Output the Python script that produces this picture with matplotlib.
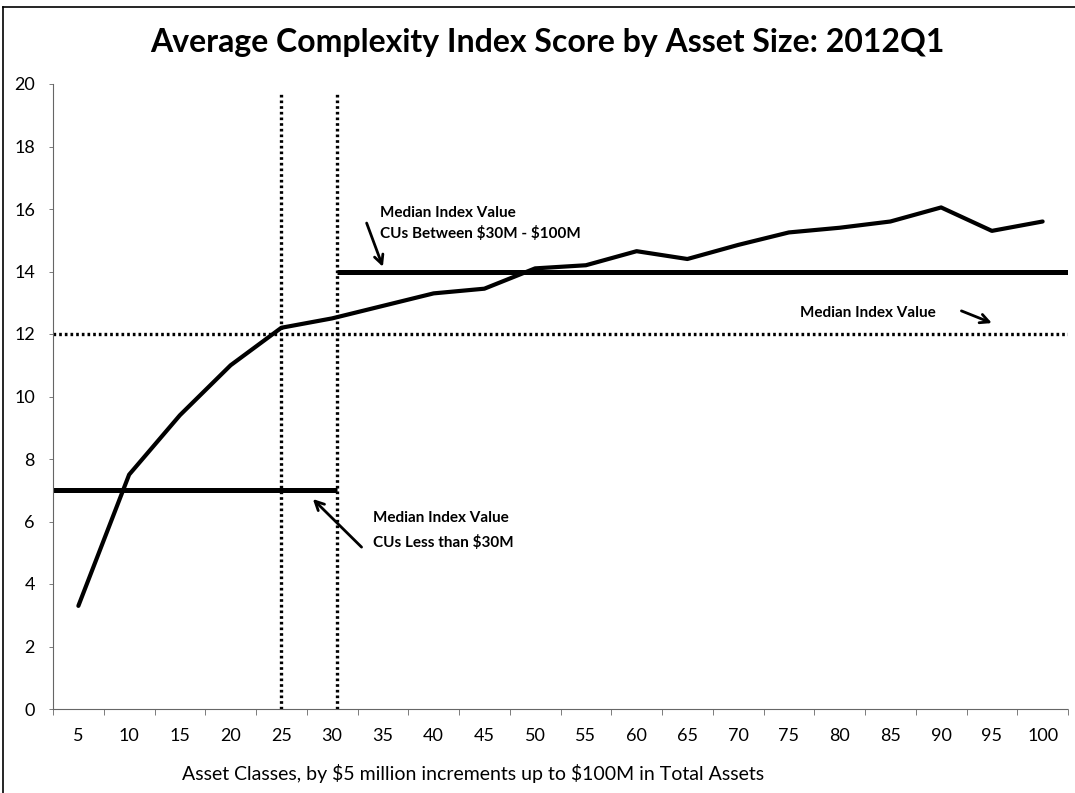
import matplotlib.pyplot as plt
from matplotlib.lines import Line2D

# asset classes ($M) and average complexity index score
asset_classes = [5, 10, 15, 20, 25, 30, 35, 40, 45, 50,
                 55, 60, 65, 70, 75, 80, 85, 90, 95, 100]
avg_score = [3.3, 7.5, 9.4, 11.0, 12.2, 12.5, 12.9, 13.3, 13.45, 14.1,
             14.2, 14.65, 14.4, 14.85, 15.25, 15.4, 15.6, 16.05, 15.3, 15.6]

median_all = 12.0
median_small = 7.0     # CUs less than $30M
median_mid = 14.0      # CUs between $30M - $100M
split_lo = 25
split_hi = 30.5

y_ticks = [0, 2, 4, 6, 8, 10, 12, 14, 16, 18, 20]

plt.rcParams['font.family'] = ['Lato', 'DejaVu Sans']

fig = plt.figure(figsize=(10.75, 7.93), dpi=100)
ax = fig.add_axes([53 / 1075, 1 - 709 / 793, 1015 / 1075, 625 / 793])

xmin, xmax = 2.5, 102.5
ax.set_xlim(xmin, xmax)
ax.set_ylim(0, 20)

dot = (0, (0.8, 0.9))
ax.plot([xmin, xmax], [median_all, median_all], color='black', lw=2.4, ls=dot)
ax.plot([split_lo, split_lo], [0, 19.75], color='black', lw=2.4, ls=dot)
ax.plot([split_hi, split_hi], [0, 19.75], color='black', lw=2.4, ls=dot)
ax.plot([xmin, split_hi], [median_small, median_small], color='black', lw=3.6,
        solid_capstyle='butt')
ax.plot([split_hi, xmax], [median_mid, median_mid], color='black', lw=3.6,
        solid_capstyle='butt')
ax.plot(asset_classes, avg_score, color='black', lw=3.0,
        solid_capstyle='round', solid_joinstyle='round')

# axes styling
for side in ['top', 'right']:
    ax.spines[side].set_visible(False)
for side in ['left', 'bottom']:
    ax.spines[side].set_linestyle((0, (1, 1)))
    ax.spines[side].set_linewidth(0.8)
    ax.spines[side].set_color('#666666')

ax.set_yticks(y_ticks)
ax.set_yticklabels([str(v) for v in y_ticks], fontsize=13)
ax.set_xticks(asset_classes)
ax.set_xticklabels([str(v) for v in asset_classes], fontsize=13)
ax.set_xticks([v + 2.5 for v in [0] + asset_classes], minor=True)
ax.tick_params(axis='x', which='major', length=0, pad=14)
ax.tick_params(axis='x', which='minor', length=4, width=0.6, color='#666666')
ax.tick_params(axis='y', length=3, width=0.6, color='#666666', pad=10)

ax.set_xlabel('Asset Classes, by \\$5 million increments up to \\$100M in Total Assets',
              fontsize=14)
ax.xaxis.set_label_coords((473 - 53) / 1015, -55 / 625)

fig.text(0.509, 0.947, 'Average Complexity Index Score by Asset Size: 2012Q1',
         ha='center', va='center', fontsize=23, fontweight='bold')

# annotations
arrow = dict(arrowstyle='->', lw=2.0, color='black',
             shrinkA=0, shrinkB=0, mutation_scale=16)
note_font = dict(fontsize=11, fontweight='bold', ha='left', va='center')

ax.text(34.7, 15.87, 'Median Index Value', **note_font)
ax.text(34.7, 15.23, 'CUs Between \\$30M - \\$100M', **note_font)
ax.annotate('', xy=(35.0, 14.15), xytext=(33.4, 15.55), arrowprops=arrow)

ax.text(76.1, 12.67, 'Median Index Value', **note_font)
ax.annotate('', xy=(95.0, 12.35), xytext=(92.0, 12.74), arrowprops=arrow)

ax.text(34.0, 6.11, 'Median Index Value', **note_font)
ax.text(34.0, 5.34, 'CUs Less than \\$30M', **note_font)
ax.annotate('', xy=(28.1, 6.72), xytext=(32.9, 5.18), arrowprops=arrow)

# outer border (top and left edges of the framed chart)
fig.add_artist(Line2D([3 / 1075, 1], [1 - 7 / 793, 1 - 7 / 793],
                      transform=fig.transFigure, color='black', lw=1.2))
fig.add_artist(Line2D([3 / 1075, 3 / 1075], [0, 1 - 7 / 793],
                      transform=fig.transFigure, color='black', lw=1.2))

fig.savefig('out.png', dpi=100, facecolor='white')
